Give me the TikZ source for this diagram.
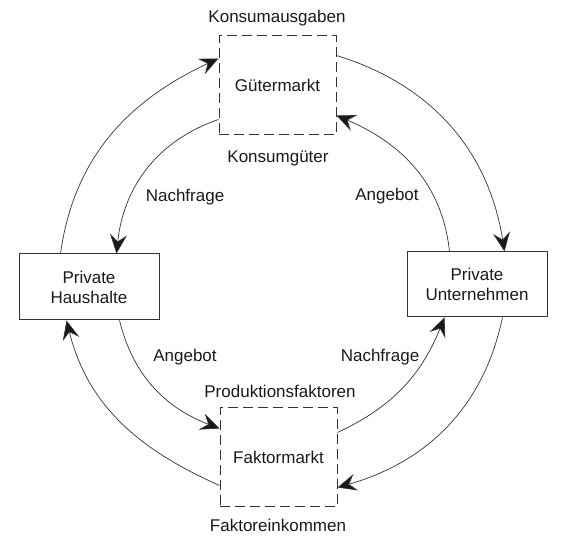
\documentclass[tikz,border=0pt]{standalone}
\usepackage{fontspec}
\setmainfont{Liberation Sans}
\usetikzlibrary{arrows.meta,calc}
\begin{document}
\begin{tikzpicture}[x=1pt,y=1pt,
  lbl/.style={font=\fontsize{17}{20}\selectfont, text=black!90, inner sep=0pt},
  marktbox/.style={draw=black!80, line width=1pt, dash pattern=on 10pt off 5pt,
    minimum width=117pt, minimum height=99pt, inner sep=0pt, align=center,
    font=\fontsize{17}{20}\selectfont, text=black!90},
  sektorbox/.style={draw=black!80, line width=1pt, minimum width=140pt,
    minimum height=66pt, inner sep=0pt, align=center,
    font=\fontsize{17}{20}\selectfont, text=black!90},
  flow/.style={draw=black!80, line width=0.7pt,
    -{Stealth[length=19pt,width=17pt,inset=7pt,fill=black!90]}}]
\useasboundingbox (0,0) rectangle (566,552);
% boxes
\node[marktbox] (gm) at (277.5,466.5) {Gütermarkt};
\node[marktbox] (fm) at (278.5,94.5) {Faktormarkt};
\node[sektorbox] (hh) at (89,265) {Private\\Haushalte};
\node[sektorbox, minimum height=65pt] (pu) at (477,267.5) {Private\\Unternehmen};
% labels
\node[lbl] (konsaus) at (277,534) {Konsumausgaben};
\node[lbl] (konsgut) at (278,394) {Konsumgüter};
\node[lbl] (prodf) at (280,161) {Produktionsfaktoren};
\node[lbl] (faktein) at (278,27) {Faktoreinkommen};
\node[lbl] (nf1) at (185,355) {Nachfrage};
\node[lbl] (ang1) at (387,356) {Angebot};
\node[lbl] (ang2) at (185,195) {Angebot};
\node[lbl] (nf2) at (380,195) {Nachfrage};
% connector end points
\coordinate (hhTL) at ([xshift=42pt]hh.north west);
\coordinate (hhTR) at ([xshift=98pt]hh.north west);
\coordinate (hhBL) at ([xshift=48pt]hh.south west);
\coordinate (hhBR) at ([xshift=101pt]hh.south west);
\coordinate (gmL1) at ([yshift=77pt]gm.south west);
\coordinate (gmL2) at ([yshift=16pt]gm.south west);
\coordinate (gmR1) at ([yshift=80pt]gm.south east);
\coordinate (gmR2) at ([yshift=20pt]gm.south east);
\coordinate (puTR) at ([xshift=98pt]pu.north west);
\coordinate (puTL) at ([xshift=43pt]pu.north west);
\coordinate (puBL) at ([xshift=38pt]pu.south west);
\coordinate (puBR) at ([xshift=96pt]pu.south west);
\coordinate (fmL1) at ([yshift=22pt]fm.south west);
\coordinate (fmL2) at ([yshift=79pt]fm.south west);
\coordinate (fmR2) at ([yshift=75pt]fm.south east);
\coordinate (fmR1) at ([yshift=20pt]fm.south east);
% connectors
\draw[flow] (hhTL) to[out=82,in=205] (gmL1);
\draw[flow] (gmL2) to[out=199,in=84] (hhTR);
\draw[flow] (gmR1) to[out=-17,in=99] (puTR);
\draw[flow] (puTL) to[out=96,in=-23] (gmR2);
\draw[flow] (fmL1) to[out=156,in=-76] (hhBL);
\draw[flow] (hhBR) to[out=-76,in=159] (fmL2);
\draw[flow] (fmR2) to[out=25,in=-112] (puBL);
\draw[flow] (puBR) to[out=-102,in=16] (fmR1);
\end{tikzpicture}
\end{document}
